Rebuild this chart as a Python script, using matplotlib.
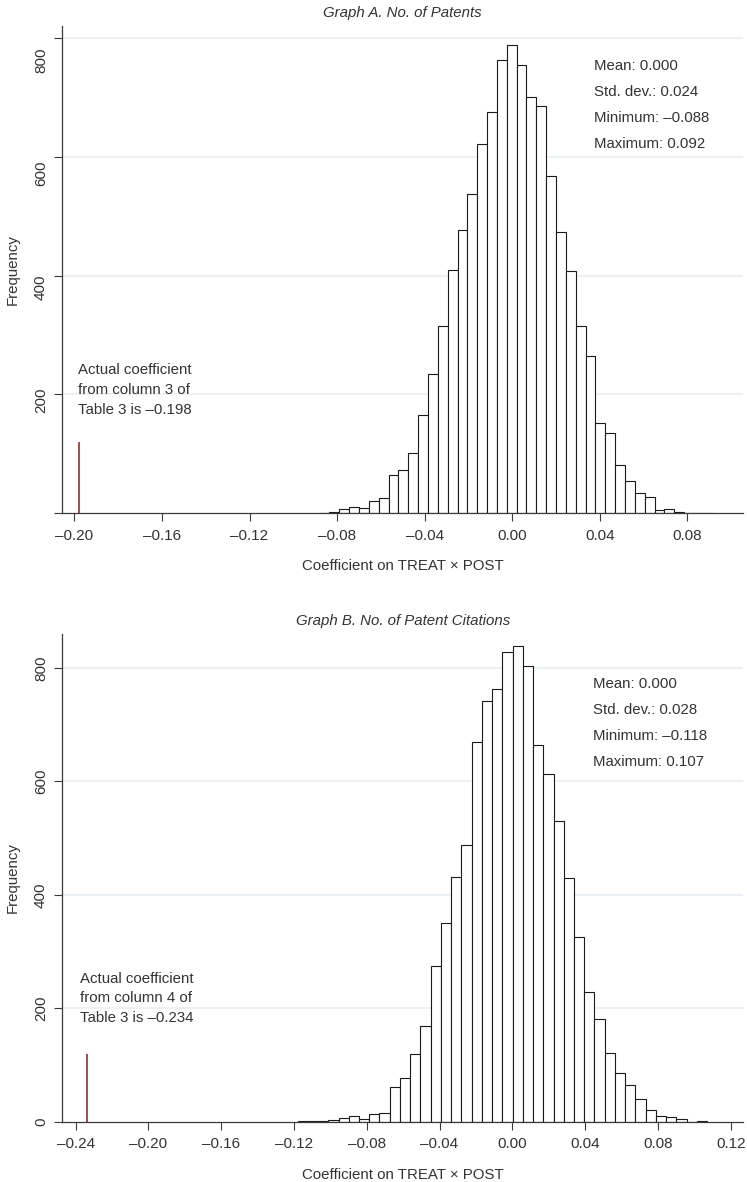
import matplotlib
matplotlib.use('Agg')
import matplotlib.pyplot as plt
import numpy as np

plt.rcParams['font.family'] = ['Liberation Sans', 'DejaVu Sans']
plt.rcParams['text.color'] = '#333333'

# Graph A: permuted coefficients, no. of patents (40 bins from min to max)
patents_min, patents_max = -0.088, 0.092
patents_counts = [1, 3, 7, 11, 9, 21, 25, 64, 73, 101,
                  165, 235, 316, 410, 477, 538, 621, 675, 763, 788,
                  755, 701, 686, 567, 474, 408, 316, 264, 152, 136,
                  82, 54, 34, 28, 5, 8, 2, 1, 1, 1]
patents_actual = -0.198
patents_stats = ['Mean: 0.000', 'Std. dev.: 0.024',
                 'Minimum: \u20130.088', 'Maximum: 0.092']
patents_note = ['Actual coefficient', 'from column 3 of', 'Table 3 is \u20130.198']
patents_xticks = [-0.20, -0.16, -0.12, -0.08, -0.04, 0.00, 0.04, 0.08]

# Graph B: permuted coefficients, no. of patent citations
cites_min, cites_max = -0.118, 0.107
cites_counts = [1, 1, 1, 3, 6, 10, 4, 13, 16, 61,
                77, 120, 168, 274, 350, 432, 488, 669, 742, 763,
                829, 839, 803, 665, 614, 531, 429, 325, 229, 182,
                122, 86, 64, 40, 20, 10, 8, 4, 0, 1]
cites_actual = -0.234
cites_stats = ['Mean: 0.000', 'Std. dev.: 0.028',
               'Minimum: \u20130.118', 'Maximum: 0.107']
cites_note = ['Actual coefficient', 'from column 4 of', 'Table 3 is \u20130.234']
cites_xticks = [-0.24, -0.20, -0.16, -0.12, -0.08, -0.04, 0.00, 0.04, 0.08, 0.12]

yticks = [0, 200, 400, 600, 800]
marker_height = 120
n_bins = 40

DARK = '#333333'


def dash(v, pos=None):
    return f'{v:.2f}'.replace('-', '\u2013')


def panel(ax, title, vmin, vmax, counts, actual, stats, note, xticks,
          xlim, ylim, stats_pos, note_x, label_shift=1.0):
    edges = np.linspace(vmin, vmax, n_bins + 1)
    ax.bar(edges[:-1], counts, width=np.diff(edges), align='edge',
           color='white', edgecolor='#1a1a1a', linewidth=0.8, zorder=2)
    ax.vlines(actual, 0, marker_height, color='#a3262a', linewidth=1.2, zorder=3)

    ax.set_xlim(*xlim)
    ax.set_ylim(*ylim)
    for s in ['top', 'right']:
        ax.spines[s].set_visible(False)
    for s in ['left', 'bottom']:
        ax.spines[s].set_color('#3a3a3a')
        ax.spines[s].set_linewidth(0.9)

    ax.set_xticks(xticks)
    ax.xaxis.set_major_formatter(plt.FuncFormatter(dash))
    ax.tick_params(axis='x', length=5.5, width=0.8, color='#3a3a3a',
                   labelsize=11, labelcolor=DARK, pad=5.5)

    ax.set_yticks(yticks)
    ax.tick_params(axis='y', which='major', length=5.8, width=0.8,
                   color='#3a3a3a')
    if label_shift == 1.0:
        ax.set_yticklabels([str(v) for v in yticks])
        ax.tick_params(axis='y', which='major', labelsize=11,
                       labelcolor=DARK, pad=4.5, labelrotation=90)
        plt.setp(ax.get_yticklabels(), va='center')
    else:
        # tick labels sit slightly off the tick marks in the original
        ax.set_yticklabels([])
        ax.set_yticks([v * label_shift for v in yticks],
                      labels=[str(v) for v in yticks], minor=True)
        ax.tick_params(axis='y', which='minor', length=0, labelsize=11,
                       labelcolor=DARK, pad=10.3, labelrotation=90)
        plt.setp(ax.get_yticklabels(minor=True), va='center')

    for v in yticks[1:]:
        ax.axhline(v, color='#e8eff3', linewidth=1.3, zorder=0)

    ax.set_title(title, fontsize=10.8, style='italic', color=DARK, pad=6.3)
    ax.set_xlabel('Coefficient on TREAT \u00d7 POST', fontsize=10.8,
                  color=DARK, va='baseline')
    ax.xaxis.set_label_coords(0.5, -0.117)
    ax.set_ylabel('Frequency', fontsize=10.8, color=DARK)
    ax.yaxis.set_label_coords(-0.063, 0.5)

    sx, sy = stats_pos
    for i, line in enumerate(stats):
        ax.text(sx, sy - i * 0.0533, line, transform=ax.transAxes,
                fontsize=10.8, color=DARK, va='baseline')
    for i, line in enumerate(note):
        ax.text(note_x, 0.2852 - i * 0.0403, line, transform=ax.transAxes,
                fontsize=10.8, color=DARK, va='baseline')


fig = plt.figure(figsize=(7.47, 11.82), dpi=100)
ax1 = fig.add_axes([0.0834, 0.5657, 0.9116, 0.4123])
ax2 = fig.add_axes([0.0834, 0.0510, 0.9116, 0.4126])

panel(ax1, 'Graph A. No. of Patents', patents_min, patents_max, patents_counts,
      patents_actual, patents_stats, patents_note, patents_xticks,
      (-0.2055, 0.1055), (0, 820), (0.781, 0.9105), 0.023, label_shift=0.953)
panel(ax2, 'Graph B. No. of Patent Citations', cites_min, cites_max, cites_counts,
      cites_actual, cites_stats, cites_note, cites_xticks,
      (-0.2473, 0.1269), (0, 860), (0.7797, 0.8887), 0.026)

fig.savefig('out.png', dpi=100)
